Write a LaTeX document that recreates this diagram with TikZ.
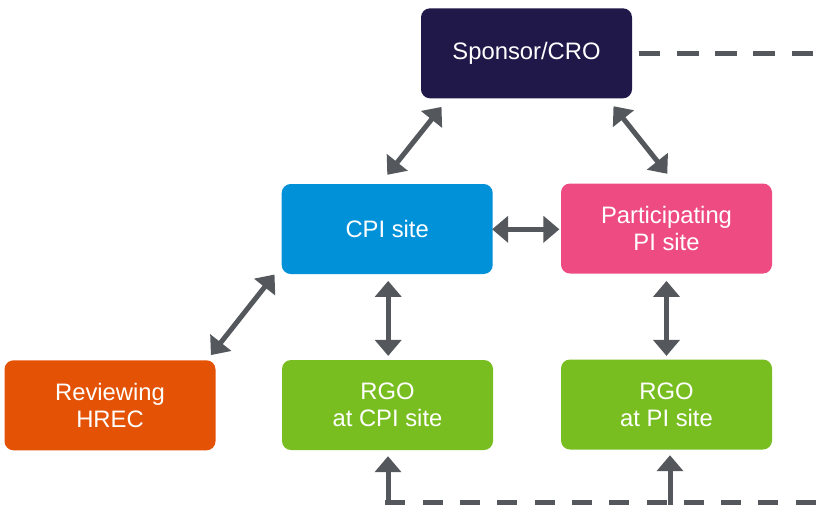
\documentclass[tikz,border=0pt]{standalone}
\usepackage{fontspec}
\setmainfont{Liberation Sans}
\usetikzlibrary{arrows.meta,calc}
\definecolor{navy}{HTML}{21184A}
\definecolor{cpiblue}{HTML}{0091D8}
\definecolor{pipink}{HTML}{EE4B83}
\definecolor{hrecorange}{HTML}{E35205}
\definecolor{rgogreen}{HTML}{78BE21}
\definecolor{linegray}{HTML}{54575C}
\begin{document}
\begin{tikzpicture}[x=1pt,y=-1pt,
  box/.style={rectangle, rounded corners=9pt, minimum width=211pt, minimum height=90pt,
    inner sep=0pt, text=white, align=center, font=\fontsize{23.8}{27.4}\selectfont},
  link/.style={draw=linegray, line width=5pt, >={Triangle[length=16pt,width=26pt]}, <->},
  uparrow/.style={draw=linegray, line width=5pt, -{Triangle[length=16pt,width=26pt]}},
  topdash/.style={draw=linegray, line width=5pt, dash pattern=on 21.7pt off 16.6pt},
  botdash/.style={draw=linegray, line width=5pt, dash pattern=on 20pt off 17.3pt}]
\useasboundingbox (0,0) rectangle (822,504);
\clip (0,0) rectangle (822,504);

\node[box, fill=navy] (sp) at (526.5,53.3) {Sponsor/CRO};
\node[box, fill=cpiblue] (cpi) at (387.2,229) {CPI site};
\node[box, fill=pipink] (pi) at (666.5,228.5) {Participating\\PI site};
\node[box, fill=hrecorange] (hrec) at (110,405.3) {Reviewing\\HREC};
\node[box, fill=rgogreen] (rgocpi) at (387.5,405) {RGO\\at CPI site};
\node[box, fill=rgogreen] (rgopi) at (666.5,404.5) {RGO\\at PI site};

\coordinate (topend) at (830,53.3);
\coordinate (b1) at (388,502);
\coordinate (b2) at (670,502);
\coordinate (botend) at (830,502);

% double-headed links
\draw[link] ($(sp.south west)+(20.7,8.4)$) -- ($(cpi.north)+(0.1,-9)$);
\draw[link] ($(sp.south east)+(-18.7,7.7)$) -- ($(pi.north)+(0.8,-9.5)$);
\draw[link] ($(cpi.east)+(-0.8,0.3)$) -- ($(cpi.east -| pi.west)+(-1.4,0.3)$);
\draw[link] ($(cpi.south west)+(-7,0.3)$) -- ($(hrec.north east)+(-4.8,-5)$);
\draw[link] ($(cpi.south)+(1,6.7)$) -- ($(cpi.south -| cpi.south)+(1,81.7)$);
\draw[link] ($(pi.south)+(0,7.2)$) -- ($(pi.south)+(0,82.2)$);

% dashed lines
\draw[topdash] ($(sp.east)+(6.3,0)$) -- (sp.east -| topend);
\draw[botdash] ($(b1)+(-2.6,0)$) -- (botend);
\draw[uparrow] ($(b1)+(0,3)$) -- ($(b1 |- rgocpi.south)+(0,6)$);
\draw[uparrow] ($(b2)+(0,3)$) -- ($(b2 |- rgopi.south)+(0,5.5)$);
\end{tikzpicture}
\end{document}
